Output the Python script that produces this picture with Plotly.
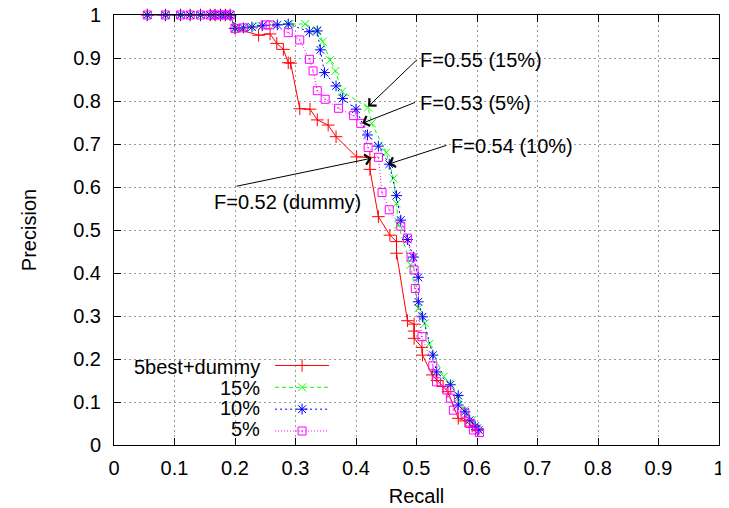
import plotly.graph_objects as go

# ---- data ----
top_recall = [0.055, 0.085, 0.11, 0.126, 0.143, 0.159, 0.167, 0.176, 0.184, 0.192]
top_prec = [1.0] * len(top_recall)

dummy_recall = top_recall + [0.2, 0.239, 0.258, 0.269, 0.28, 0.288, 0.292, 0.307, 0.324, 0.336, 0.354, 0.367,
                             0.401, 0.423, 0.423, 0.437, 0.456, 0.467, 0.467, 0.485, 0.496, 0.496, 0.496, 0.509,
                             0.51, 0.526, 0.534, 0.544, 0.552, 0.569, 0.58, 0.592, 0.601]
dummy_prec = top_prec + [0.969, 0.953, 0.956, 0.934, 0.92, 0.889, 0.888, 0.782, 0.781, 0.756, 0.744, 0.717,
                         0.67, 0.669, 0.641, 0.531, 0.488, 0.473, 0.446, 0.289, 0.281, 0.265, 0.248, 0.227,
                         0.209, 0.163, 0.15, 0.136, 0.124, 0.062, 0.056, 0.044, 0.035]

p15_recall = top_recall + [0.2, 0.21, 0.225, 0.24, 0.265, 0.29, 0.316, 0.336, 0.345, 0.357, 0.366, 0.377,
                           0.42, 0.426, 0.45, 0.462, 0.467, 0.47, 0.49, 0.503, 0.514, 0.521, 0.545, 0.555,
                           0.569, 0.58, 0.592, 0.601]
p15_prec = top_prec + [0.969, 0.97, 0.972, 0.975, 0.977, 0.979, 0.979, 0.965, 0.938, 0.895, 0.87, 0.822,
                       0.785, 0.748, 0.68, 0.62, 0.562, 0.512, 0.419, 0.318, 0.283, 0.235, 0.159, 0.143,
                       0.109, 0.081, 0.058, 0.04]

p10_recall = top_recall + [0.2, 0.214, 0.228, 0.245, 0.27, 0.288, 0.323, 0.336, 0.341, 0.348, 0.367, 0.378,
                           0.4, 0.419, 0.437, 0.455, 0.467, 0.474, 0.485, 0.495, 0.503, 0.503, 0.51, 0.527,
                           0.533, 0.556, 0.569, 0.569, 0.58, 0.588, 0.597, 0.603]
p10_prec = top_prec + [0.969, 0.97, 0.972, 0.975, 0.977, 0.979, 0.961, 0.963, 0.919, 0.866, 0.835, 0.806,
                       0.781, 0.721, 0.695, 0.653, 0.58, 0.523, 0.478, 0.437, 0.39, 0.333, 0.298, 0.209,
                       0.17, 0.14, 0.115, 0.093, 0.077, 0.058, 0.044, 0.035]

p5_recall = top_recall + [0.2, 0.214, 0.25, 0.258, 0.288, 0.307, 0.323, 0.329, 0.336, 0.349, 0.371, 0.396,
                          0.408, 0.42, 0.437, 0.443, 0.455, 0.474, 0.485, 0.491, 0.496, 0.498, 0.509, 0.527,
                          0.533, 0.55, 0.556, 0.561, 0.58, 0.588, 0.594, 0.604]
p5_prec = top_prec + [0.969, 0.97, 0.977, 0.977, 0.959, 0.942, 0.897, 0.87, 0.824, 0.804, 0.783, 0.766,
                      0.748, 0.692, 0.669, 0.587, 0.547, 0.509, 0.481, 0.437, 0.407, 0.364, 0.252, 0.184,
                      0.147, 0.128, 0.109, 0.081, 0.074, 0.05, 0.035, 0.029]

series_names = ["5best+dummy", "15%", "10%", "5%"]

# annotations: text, text position, arrow tail, arrow head
ann_texts = ["F=0.55 (15%)", "F=0.53 (5%)", "F=0.54 (10%)", "F=0.52 (dummy)"]
ann_text_x = [0.503, 0.503, 0.553, 0.286]
ann_text_y = [0.895, 0.796, 0.695, 0.566]
ann_anchor = ["left", "left", "left", "center"]
arrow_tail_x = [0.503, 0.5, 0.552, 0.2]
arrow_tail_y = [0.899, 0.798, 0.698, 0.601]
arrow_head_x = [0.42, 0.41, 0.453, 0.426]
arrow_head_y = [0.787, 0.748, 0.653, 0.667]

FONT = "Liberation Sans, Arial, Helvetica, sans-serif"

styles = [
    dict(color="#ff0000", dash="solid", symbol="cross-thin", size=9),
    dict(color="#00ff00", dash="4px,3px", symbol="x-thin", size=8),
    dict(color="#0000ff", dash="2px,3px", symbol="asterisk", size=9),
    dict(color="#ff00ff", dash="1px,2px", symbol="square-open-dot", size=8),
]
data = [(dummy_recall, dummy_prec), (p15_recall, p15_prec), (p10_recall, p10_prec), (p5_recall, p5_prec)]

fig = go.Figure()
for name, (xs, ys), st in zip(series_names, data, styles):
    fig.add_trace(go.Scatter(
        x=xs, y=ys, name=name, mode="lines+markers", cliponaxis=False,
        line=dict(color=st["color"], width=1, dash=st["dash"]),
        marker=dict(symbol=st["symbol"], size=st["size"], color=st["color"],
                    line=dict(color=st["color"], width=1)),
    ))

annotations = []
for t, tx, ty, anc in zip(ann_texts, ann_text_x, ann_text_y, ann_anchor):
    annotations.append(dict(x=tx, y=ty, xref="x", yref="y", text=t, showarrow=False,
                            xanchor=anc, yanchor="middle", font=dict(size=20, color="black", family=FONT)))
for axx, ayy, hx, hy in zip(arrow_tail_x, arrow_tail_y, arrow_head_x, arrow_head_y):
    annotations.append(dict(x=hx, y=hy, ax=axx, ay=ayy, xref="x", yref="y", axref="x", ayref="y",
                            text="", showarrow=True, arrowhead=4, arrowsize=2, arrowwidth=1,
                            arrowcolor="black", standoff=0))

# legend labels (right-aligned, left of the samples)
legend_label_y = [0.182, 0.133, 0.085, 0.037]
for name, ly in zip(series_names, legend_label_y):
    annotations.append(dict(x=0.245, y=ly, xref="paper", yref="paper", text=name, showarrow=False,
                            xanchor="right", yanchor="middle", font=dict(size=20, color="black", family=FONT)))

axis_common = dict(
    range=[0, 1], dtick=0.1, tick0=0, showline=True, linecolor="black", linewidth=1, mirror="ticks",
    ticks="inside", ticklen=7, tickcolor="black", tickwidth=1,
    showgrid=True, gridcolor="#9a9a9a", gridwidth=1, griddash="2px,3px",
    zeroline=False, tickfont=dict(size=20, color="black", family=FONT), automargin=False,
    ticklabeloverflow="allow",
)

fig.update_layout(
    width=721, height=500,
    margin=dict(l=106, r=10, t=7, b=63),
    paper_bgcolor="white", plot_bgcolor="white",
    font=dict(family=FONT, size=20, color="black"),
    xaxis=dict(axis_common, title=dict(text="Recall", font=dict(size=20), standoff=10), ticklabelstandoff=5),
    yaxis=dict(axis_common, title=dict(text="Precision", font=dict(size=20), standoff=31), ticklabelstandoff=8),
    showlegend=True,
    legend=dict(x=0.258, y=0.222, xanchor="left", yanchor="top", bgcolor="rgba(0,0,0,0)",
                font=dict(size=14.5, color="rgba(0,0,0,0)"), itemwidth=54, tracegroupgap=0),
    annotations=annotations,
)

fig.write_html("out.html")
